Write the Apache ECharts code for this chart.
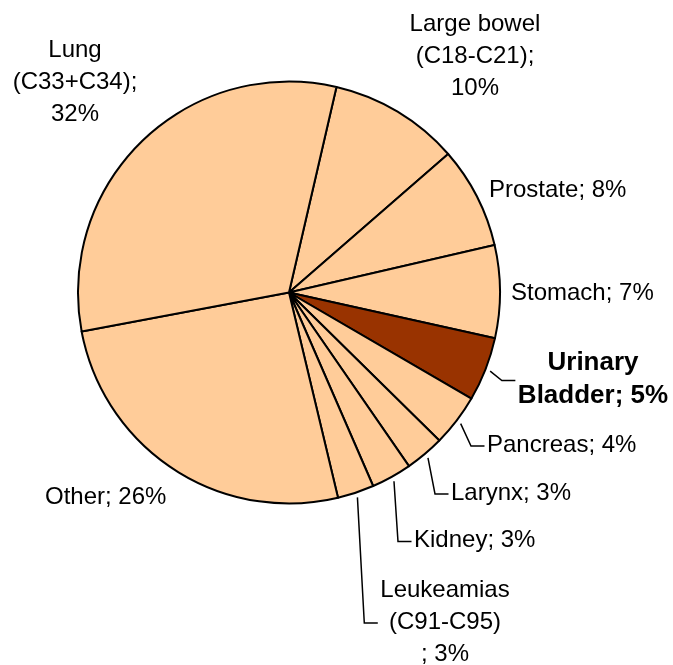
<!DOCTYPE html>
<html>
<head>
<meta charset="utf-8">
<script src="https://cdn.jsdelivr.net/npm/echarts@6/dist/echarts.min.js"></script>
<style>
  html, body { margin: 0; padding: 0; background: #fff; }
  #chart { width: 673px; height: 665px; }
</style>
</head>
<body>
<div id="chart"></div>
<script>
// cancer sites, clockwise from the top (labels keep the source's line breaks)
const sites = [
  'Large bowel\n(C18-C21)', 'Prostate', 'Stomach', 'Urinary\nBladder', 'Pancreas',
  'Larynx', 'Kidney', 'Leukeamias\n(C91-C95)\n', 'Other', 'Lung\n(C33+C34)'
]
// share of deaths, %
const shares = [10.0, 7.8, 7.1, 4.9, 4.0, 3.0, 3.1, 2.8, 25.8, 31.6]
// what goes between "name;" and the percentage
const joiners = ['\n', ' ', ' ', ' ', ' ', ' ', ' ', ' ', ' ', '\n']
const focusSite = 'Urinary\nBladder'

const FONT = '"Liberation Sans", Arial, sans-serif'

// where each label sits (like manually dragged Excel labels)
const spots = [
  {x: 475, y: 56, align: 'center'},
  {x: 489, y: 190, align: 'left'},
  {x: 511, y: 293, align: 'left'},
  {x: 593, y: 379.5, align: 'center', line: true},
  {x: 487, y: 445, align: 'left', line: true},
  {x: 451, y: 493, align: 'left', line: true},
  {x: 414, y: 540.5, align: 'left', line: true},
  {x: 445, y: 622, align: 'center', line: true},
  {x: 45, y: 497.5, align: 'left'},
  {x: 75, y: 82.5, align: 'center'}
]

const chart = echarts.init(document.getElementById('chart'), null, {renderer: 'canvas'})

const data = sites.map((name, i) => ({
  name,
  value: shares[i],
  itemStyle: {color: name === focusSite ? '#993300' : '#FFCC99'},
  labelLine: {show: !!spots[i].line}
}))

chart.setOption({
  animation: false,
  series: [{
    type: 'pie',
    center: [289, 292.5],
    radius: 211,
    startAngle: 77,
    clockwise: true,
    avoidLabelOverlap: false,
    silent: true,
    data,
    itemStyle: {borderColor: '#000', borderWidth: 2},
    label: {
      show: true,
      position: 'outside',
      color: '#000',
      fontFamily: FONT,
      fontSize: 24,
      lineHeight: 32,
      formatter: p => {
        const i = p.dataIndex
        const txt = p.name + ';' + joiners[i] + Math.round(p.percent) + '%'
        const tag = p.name === focusSite ? 'b' : 'n'
        return txt.split('\n').map(l => '{' + tag + '|' + l + '}').join('\n')
      },
      rich: {
        n: {fontFamily: FONT, fontSize: 24, lineHeight: 32, color: '#000', align: 'center'},
        b: {fontFamily: FONT, fontSize: 26, fontWeight: 'bold', lineHeight: 33.5, color: '#000', align: 'center'}
      }
    },
    labelLine: {lineStyle: {color: '#000', width: 1.5}},
    labelLayout: p => {
      const s = spots[p.dataIndex]
      const out = {x: s.x, y: s.y, align: s.align, verticalAlign: 'middle'}
      if (s.line && p.labelLinePoints) {
        // keep the library's anchor on the slice, then run down to the label's left side
        const a = p.labelLinePoints[0], b = p.labelLinePoints[1]
        const dx = b[0] - a[0], dy = b[1] - a[1]
        const len = Math.hypot(dx, dy) || 1
        const left = s.align === 'center' ? s.x - p.labelRect.width / 2 : s.x
        out.labelLinePoints = [
          [a[0] + dx / len * 5, a[1] + dy / len * 5],
          [left - 16, s.y + 1],
          [left - 2.5, s.y + 1]
        ]
      }
      return out
    }
  }]
})
</script>
</body>
</html>
